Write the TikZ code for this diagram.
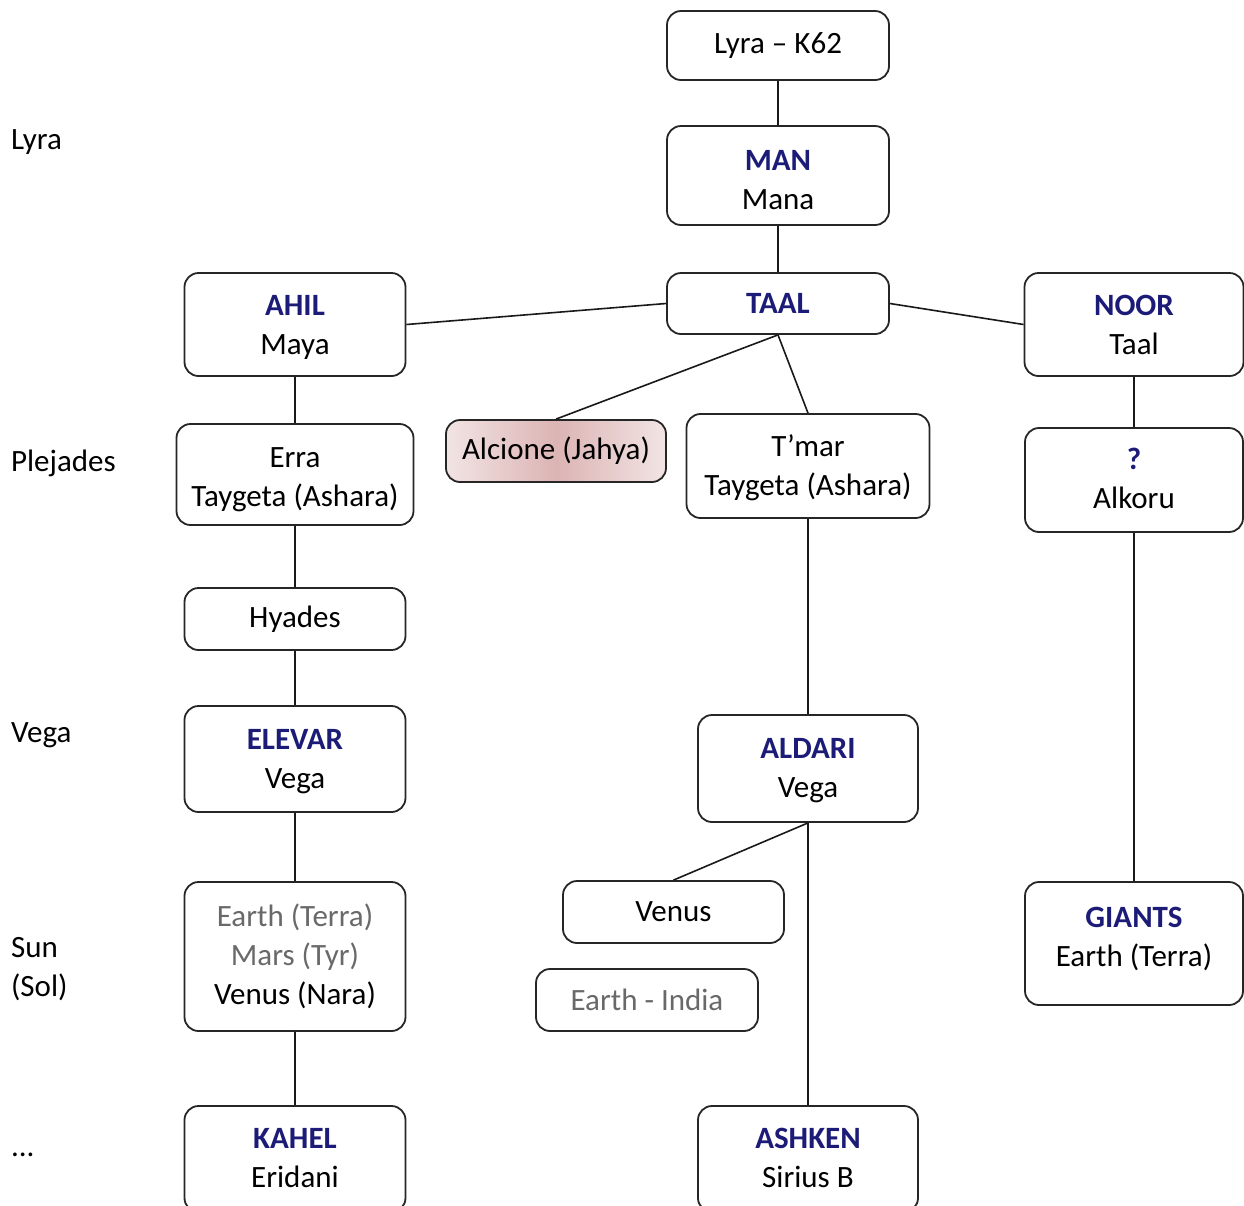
\documentclass[tikz,border=0pt]{standalone}
\usepackage{fontspec}
\setmainfont{Carlito}
\usetikzlibrary{positioning}
\definecolor{navy}{RGB}{28,28,120}
\definecolor{greytext}{RGB}{105,105,105}
\definecolor{rosemid}{RGB}{220,180,180}
\definecolor{roseedge}{RGB}{242,228,228}
\tikzstyle{box} = [draw=black!85, line width=0.9pt, rounded corners=7pt, minimum width=111pt, align=center, inner sep=2pt, font=\fontsize{15.5}{19.5}\selectfont]
\tikzstyle{twoline} = [text height=35pt, text depth=#1]
\tikzstyle{link} = [line width=0.8pt, draw=black!90]
\tikzstyle{level} = [anchor=west, align=left, font=\fontsize{15.5}{19.5}\selectfont]
\newcommand{\boxtitle}[1]{{\bfseries\color{navy}#1}}

\begin{document}
\begin{tikzpicture}[x=0.5pt, y=-0.5pt]
        \clip (0,0) rectangle (1244,1206);
        % levels
        \node (lvlyra) [level] at (4,142) {Lyra};
        \node (lvplej) [level] at (4,463) {Plejades};
        \node (lvvega) [level] at (4,735) {Vega};
        \node (lvsun) [level] at (4,969) {Sun\\(Sol)};
        \node (lvdots) [level] at (4,1155) {...};
        % top
        \node (lyra) [box, minimum height=34.5pt] at (778,45.5) {Lyra -- K62};
        \node (man) [box, twoline=1pt, minimum height=49.5pt] at (778,175.5) {\boxtitle{MAN}\\Mana};
        \node (taal) [box, minimum height=30.5pt] at (778,303.5) {\boxtitle{TAAL}};
        \node (ahil) [box, twoline=5.5pt, minimum width=110.5pt, minimum height=51.5pt] at (295,324.5) {\boxtitle{AHIL}\\Maya};
        \node (noor) [box, twoline=5.5pt, minimum width=109.5pt, minimum height=51.5pt] at (1134,324.5) {\boxtitle{NOOR}\\Taal};
        % plejades
        \node (erra) [box, twoline=3pt, minimum width=118.5pt, minimum height=50.5pt] at (295,474.5) {Erra\\Taygeta (Ashara)};
        \node (alcione) [box, minimum width=110pt, minimum height=31pt, left color=roseedge, right color=roseedge, middle color=rosemid] at (556,451) {Alcione (Jahya)};
        \node (tmar) [box, twoline=5.5pt, minimum width=121.5pt, minimum height=52pt] at (808,466) {T’mar\\Taygeta (Ashara)};
        \node (alkoru) [box, twoline=7pt, minimum width=109pt, minimum height=52pt] at (1134,480) {\boxtitle{?}\\Alkoru};
        \node (hyades) [box, minimum width=110.5pt, minimum height=31pt] at (295,619) {Hyades};
        % vega
        \node (elevar) [box, twoline=5.5pt, minimum width=110.5pt, minimum height=53pt] at (295,759) {\boxtitle{ELEVAR}\\Vega};
        \node (aldari) [box, twoline=6.5pt, minimum width=110pt, minimum height=53.5pt] at (808,768.5) {\boxtitle{ALDARI}\\Vega};
        % sun
        \node (sol) [box, minimum width=110.5pt, minimum height=74.5pt] at (295,956.5) {\textcolor{greytext}{Earth (Terra)}\\\textcolor{greytext}{Mars (Tyr)}\\Venus (Nara)};
        \node (venus) [box, minimum width=110.5pt, minimum height=31pt] at (673.5,912) {Venus};
        \node (india) [box, minimum width=111pt, minimum height=31pt] at (647,1000) {\textcolor{greytext}{Earth - India}};
        \node (giants) [box, twoline=12pt, minimum width=109pt, minimum height=61.5pt] at (1134,943.5) {\boxtitle{GIANTS}\\Earth (Terra)};
        % bottom
        \node (kahel) [box, twoline=6.5pt, minimum width=110.5pt, minimum height=53pt] at (295,1159) {\boxtitle{KAHEL}\\Eridani};
        \node (ashken) [box, twoline=6.5pt, minimum width=110pt, minimum height=53pt] at (808,1159) {\boxtitle{ASHKEN}\\Sirius B};
        % links
        \draw [link] (lyra) -- (man);
        \draw [link] (man) -- (taal);
        \draw [link] (taal.west) -- (ahil.east);
        \draw [link] (taal.east) -- (noor.west);
        \draw [link] (taal.south) -- (alcione.north);
        \draw [link] (taal.south) -- (tmar.north);
        \draw [link] (ahil) -- (erra);
        \draw [link] (erra) -- (hyades);
        \draw [link] (hyades) -- (elevar);
        \draw [link] (elevar) -- (sol);
        \draw [link] (sol) -- (kahel);
        \draw [link] (tmar) -- (aldari);
        \draw [link] (aldari.south) -- (venus.north);
        \draw [link] (aldari) -- (ashken);
        \draw [link] (noor) -- (alkoru);
        \draw [link] (alkoru) -- (giants);
    \end{tikzpicture}
\end{document}
